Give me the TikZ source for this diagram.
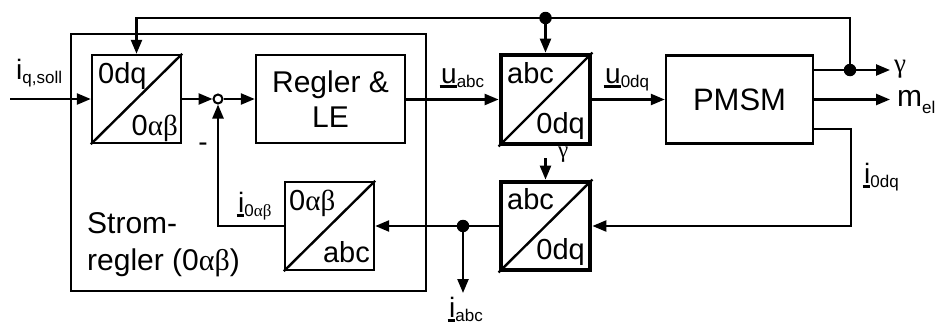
\documentclass[tikz,border=0pt]{standalone}
\usepackage{fontspec}
\setmainfont{Liberation Sans}
\newfontfamily\grk{Liberation Serif}
\usetikzlibrary{arrows.meta}
\newcommand\ulbox[1]{\setbox0\hbox{#1}\rlap{\kern-1.5pt\rule[-4.5pt]{\dimexpr\wd0+1.5pt\relax}{2.2pt}}\box0}
\newcommand\sbs[1]{\raisebox{-4pt}{\fontsize{17}{17}\selectfont #1}}
\begin{document}
\begin{tikzpicture}[x=1pt,y=-1pt,
  line width=2.4pt,
  >={Triangle[length=14pt,width=11pt]},
  blk/.style={draw, line width=2.4pt, inner sep=0pt, minimum width=89pt, minimum height=88pt},
  tblk/.style={draw, line width=4.8pt, inner sep=0pt, minimum width=89pt, minimum height=89pt},
  diag/.style={line width=2.4pt},
  btxt/.style={inner sep=0pt, font=\fontsize{29}{30}\selectfont},
  lbl/.style={inner sep=0pt, font=\fontsize{28}{30}\selectfont},
  dot/.style={circle, fill=black, inner sep=0pt, minimum size=12.5pt}
]
\useasboundingbox (0,0) rectangle (937,324);

% outer Stromregler frame
\node[draw, line width=2.2pt, inner sep=0pt, minimum width=355pt, minimum height=257pt] (sr) at (248.5,162.5) {};
\node[lbl, anchor=base west, font=\fontsize{30}{30}\selectfont] (sr1) at (86,233) {Strom-};
\node[lbl, anchor=base west, font=\fontsize{30}{30}\selectfont] (sr2) at (86,270) {regler (0{\grk αβ})};

% blocks
\node[blk] (b1) at (136.5,99) {};
\draw[diag] (b1.south west) -- (b1.north east);
\node[btxt, anchor=base west] (b1a) at (97,83) {0dq};
\node[btxt, anchor=base east] (b1b) at (179,135) {0{\grk αβ}};

\node[draw, line width=2.4pt, inner sep=0pt, minimum width=149pt, minimum height=88pt, align=center, font=\fontsize{30}{35}\selectfont] (reg) at (330.5,99) {Regler \&\\LE};

\node[tblk] (b2) at (545.5,99.5) {};
\draw[diag] (b2.south west) -- (b2.north east);
\node[btxt, anchor=base west] (b2a) at (506,83) {abc};
\node[btxt, anchor=base east] (b2b) at (586,133) {0dq};

\node[tblk, minimum height=88pt] (b3) at (545.5,226) {};
\draw[diag] (b3.south west) -- (b3.north east);
\node[btxt, anchor=base west] (b3a) at (506,209) {abc};
\node[btxt, anchor=base east] (b3b) at (586,259) {0dq};

\node[blk] (b4) at (329.5,226) {};
\draw[diag] (b4.south west) -- (b4.north east);
\node[btxt, anchor=base west] (b4a) at (288,210) {0{\grk αβ}};
\node[btxt, anchor=base east] (b4b) at (371,262) {abc};

\node[draw, line width=2.4pt, inner sep=0pt, minimum width=147pt, minimum height=88pt, font=\fontsize{31}{33}\selectfont] (pm) at (739.5,99.5) {PMSM};

% summing point
\node[circle, draw, line width=2pt, fill=white, inner sep=0pt, minimum size=9pt] (sum) at (218,99) {};
\node[lbl, anchor=base] (minus) at (203,151) {-};

% coordinates
\coordinate (in) at (10,99);
\coordinate (t1) at (136.5,18);
\coordinate (t2) at (850,18);
\node[dot] (jt) at (545.5,18) {};
\node[dot] (jg) at (850,70) {};
\coordinate (gout) at (890,70);
\coordinate (mout) at (890,99.5);
\coordinate (r1) at (851,129);
\coordinate (r2) at (851,226);
\node[dot] (jd) at (463,226) {};
\coordinate (dout) at (463,293);
\coordinate (f1) at (218,226);
\coordinate (gs) at (545.5,158);

% connectors
\draw[->] (in) -- (b1.west);
\draw[->] (b1.east) -- (sum.west);
\draw[->] (sum.east) -- (reg.west);
\draw[->] (reg.east |- b2.west) -- (b2.west);
\draw[->] (b2.east) -- (pm.west);
\draw[->] (jg.center) -- (t2) -- (t1) -- (b1.north);
\draw[->] (jt.center) -- (b2.north);
\draw[->] (pm.east |- gout) -- (gout);
\draw[->] (pm.east |- mout) -- (mout);
\draw[->] (pm.east |- r1) -- (r1) -- (r2) -- (b3.east);
\draw[->] (b3.west) -- (b4.east);
\draw[->] (jd.center) -- (dout);
\draw[->] (b4.west) -- (f1) -- (sum.south);
\draw[->] (gs) -- (b3.north);

% labels
\node[lbl, anchor=base west] (liq) at (15,79) {i\sbs{q,soll}};
\node[lbl, anchor=base west] (lu1) at (440,83) {\ulbox{u}\sbs{abc}};
\node[lbl, anchor=base west] (lu2) at (604,83) {\ulbox{u}\sbs{0dq}};
\node[lbl, anchor=base west] (li1) at (237,212) {\ulbox{i}\sbs{0{\grk αβ}}};
\node[lbl, anchor=base west] (li2) at (863,183) {\ulbox{i}\sbs{0dq}};
\node[lbl, anchor=base west] (li3) at (448,317) {\ulbox{i}\sbs{abc}};
\node[lbl, anchor=base west, font=\fontsize{27}{28}\selectfont] (lg1) at (893,72) {\grk γ};
\node[lbl, anchor=base west, font=\fontsize{23}{24}\selectfont] (lg2) at (557,157) {\grk γ};
\node[lbl, anchor=base west, font=\fontsize{30}{30}\selectfont] (lm) at (896,106) {m\raisebox{-7pt}{\fontsize{17}{17}\selectfont el}};
\end{tikzpicture}
\end{document}
